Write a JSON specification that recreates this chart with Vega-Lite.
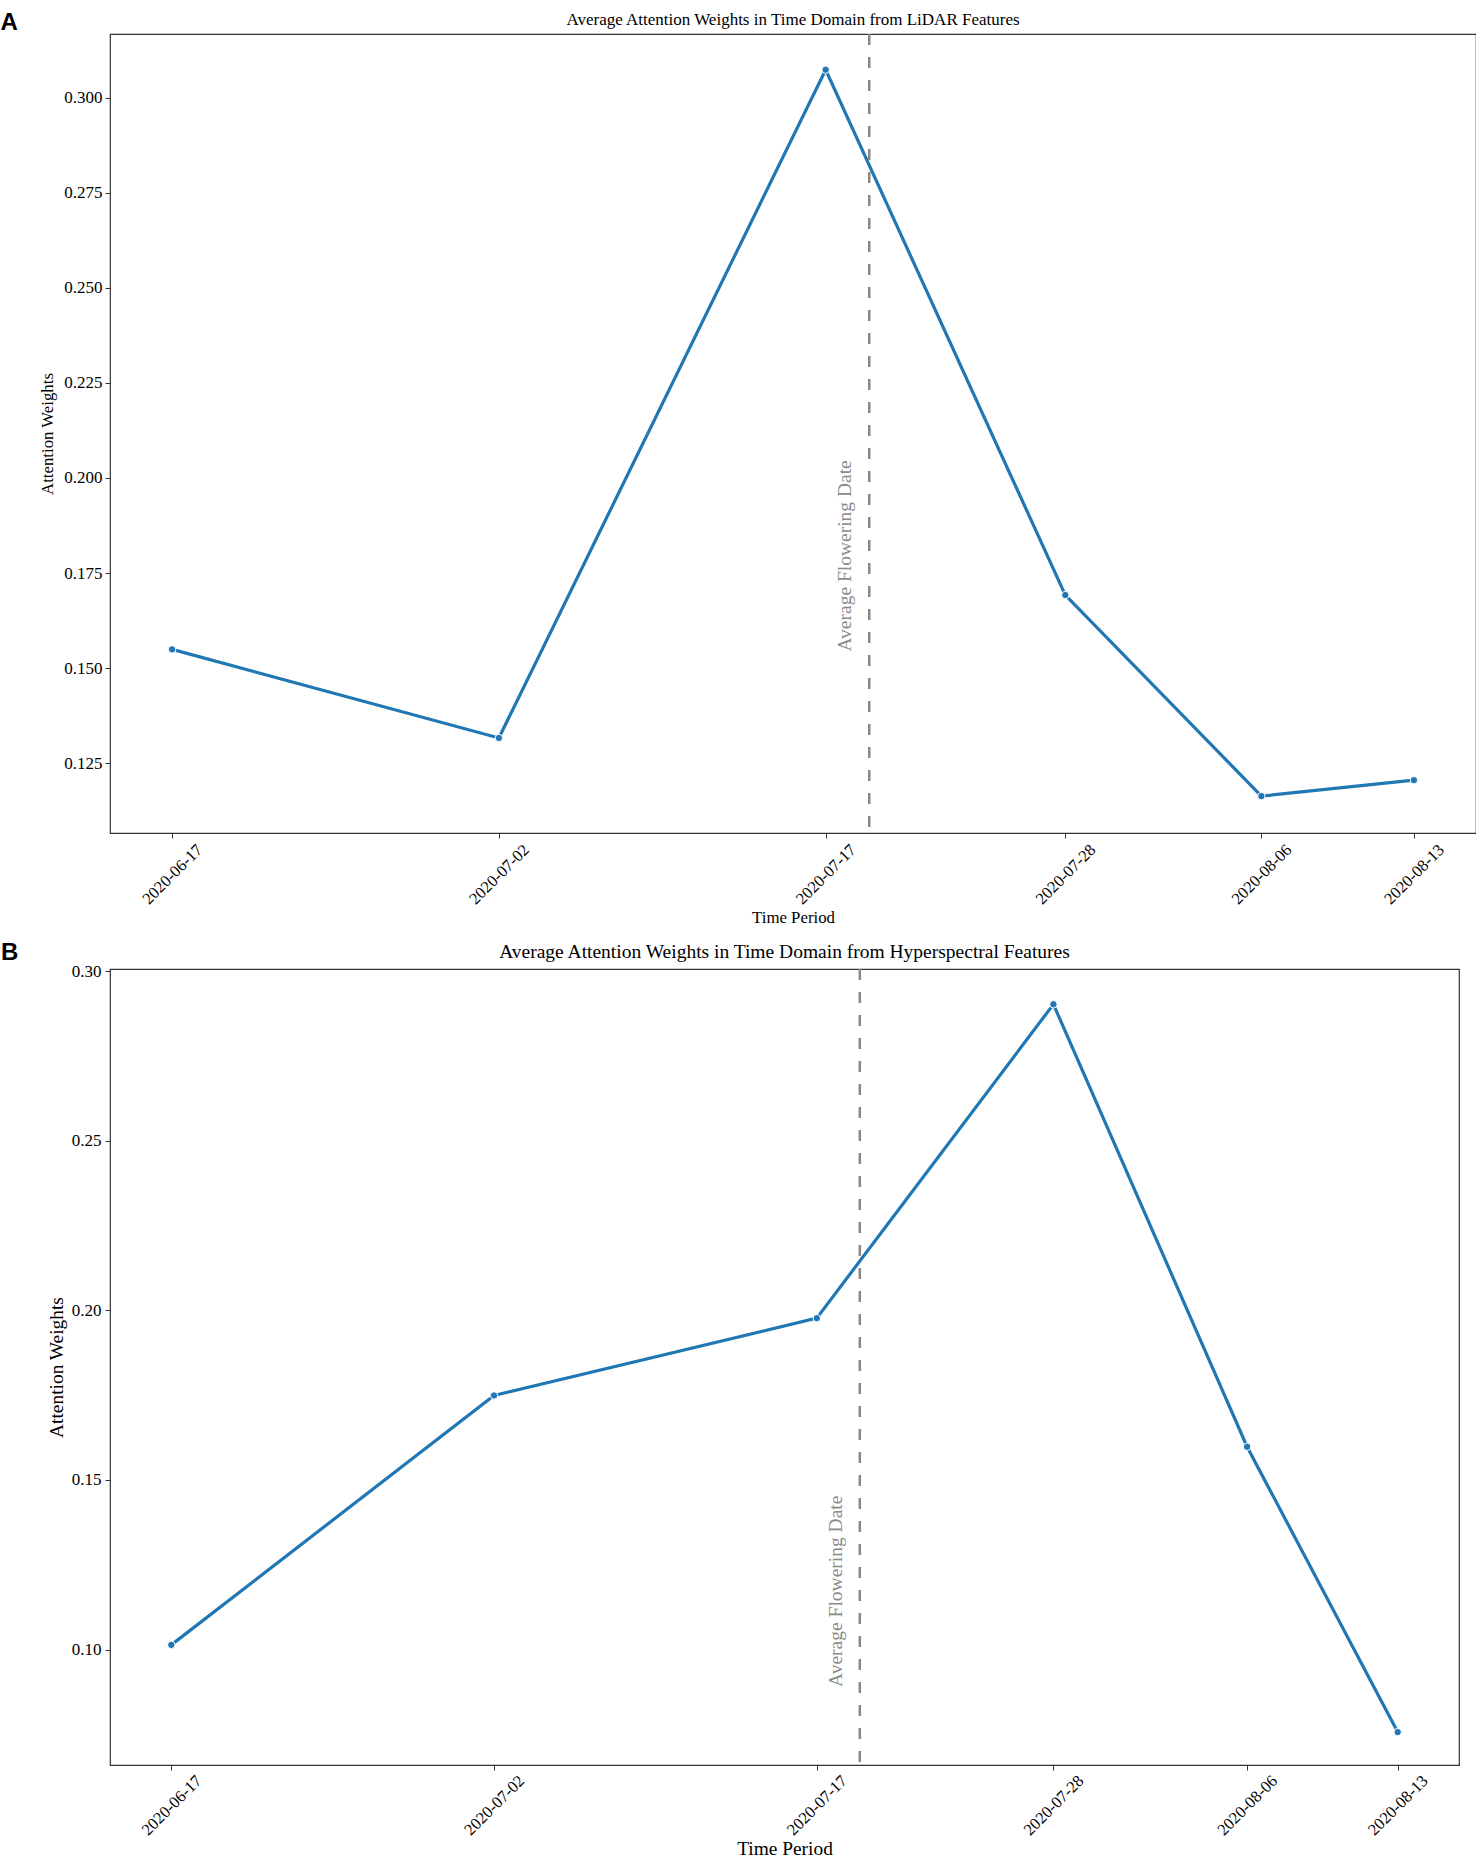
{
  "$schema": "https://vega.github.io/schema/vega-lite/v6.json",
  "background": "white",
  "padding": {"left": 0, "top": 10, "right": 0, "bottom": 0},
  "columns": 1,
  "align": "none",
  "spacing": 13,
  "config": {
    "font": "Liberation Serif",
    "view": {"stroke": "#333333", "strokeWidth": 1.2},
    "title": {"font": "Liberation Serif", "fontWeight": "normal", "color": "black"},
    "axis": {
      "grid": false,
      "domain": false,
      "tickColor": "#333333",
      "tickSize": 5,
      "labelColor": "black",
      "labelFont": "Liberation Serif",
      "titleFont": "Liberation Serif",
      "titleFontWeight": "normal",
      "titleColor": "black"
    }
  },
  "concat": [
    {
      "title": {"text": "A", "orient": "left", "anchor": "end", "angle": 0, "align": "right", "baseline": "top", "offset": 4, "font": "Liberation Sans", "fontWeight": "bold", "fontSize": 24},
      "vconcat": [
        {
          "title": {"text": "Average Attention Weights in Time Domain from LiDAR Features", "fontSize": 17, "offset": 3.5},
          "width": 1366,
          "height": 799,
          "layer": [
            {
              "data": {"values": [
                {"date": "2020-06-17", "weight": 0.1549},
                {"date": "2020-07-02", "weight": 0.1316},
                {"date": "2020-07-17", "weight": 0.3074},
                {"date": "2020-07-28", "weight": 0.1692},
                {"date": "2020-08-06", "weight": 0.1163},
                {"date": "2020-08-13", "weight": 0.1205}
              ]},
              "encoding": {
                "x": {
                  "field": "date", "type": "temporal", "title": "Time Period",
                  "scale": {"type": "utc", "domain": [
                    {"year": 2020, "month": 6, "date": 14, "hours": 3, "minutes": 36, "utc": true},
                    {"year": 2020, "month": 8, "date": 15, "hours": 20, "minutes": 24, "utc": true}
                  ]},
                  "axis": {
                    "values": [
                      {"year": 2020, "month": 6, "date": 17, "utc": true},
                      {"year": 2020, "month": 7, "date": 2, "utc": true},
                      {"year": 2020, "month": 7, "date": 17, "utc": true},
                      {"year": 2020, "month": 7, "date": 28, "utc": true},
                      {"year": 2020, "month": 8, "date": 6, "utc": true},
                      {"year": 2020, "month": 8, "date": 13, "utc": true}
                    ],
                    "labelExpr": "utcFormat(datum.value, '%Y-%m-%d')",
                    "labelAngle": -45,
                    "labelAlign": "center",
                    "labelBaseline": "middle",
                    "labelFontSize": 16.5,
                    "labelPadding": 36,
                    "titleFontSize": 16.8,
                    "titlePadding": 2
                  }
                },
                "y": {
                  "field": "weight", "type": "quantitative", "title": "Attention Weights",
                  "scale": {"domain": [0.1066, 0.3168], "zero": false, "nice": false},
                  "axis": {
                    "values": [0.125, 0.15, 0.175, 0.2, 0.225, 0.25, 0.275, 0.3],
                    "format": ".3f",
                    "labelFontSize": 17,
                    "labelPadding": 3,
                    "titleFontSize": 16.8,
                    "titlePadding": 7
                  }
                }
              },
              "layer": [
                {"mark": {"type": "line", "color": "#1f77b4", "strokeWidth": 3.2}},
                {"mark": {"type": "point", "filled": true, "color": "#1f77b4", "stroke": "white", "strokeWidth": 1, "size": 55, "opacity": 1}}
              ]
            },
            {
              "data": {"values": [{"flowering": "2020-07-19", "label": "Average Flowering Date"}]},
              "mark": {"type": "rule", "color": "#888888", "strokeWidth": 2.5, "strokeDash": [11, 12]},
              "encoding": {"x": {"field": "flowering", "type": "temporal"}}
            },
            {
              "data": {"values": [{"flowering": "2020-07-19", "label": "Average Flowering Date"}]},
              "mark": {"type": "text", "angle": 270, "dy": -14, "baseline": "bottom", "align": "center", "fontSize": 19.5, "color": "#8a8a8a", "font": "Liberation Serif"},
              "encoding": {
                "x": {"field": "flowering", "type": "temporal"},
                "y": {"datum": 0.1795, "type": "quantitative"},
                "text": {"field": "label", "type": "nominal"}
              }
            }
          ]
        }
      ]
    },
    {
      "title": {"text": "B", "orient": "left", "anchor": "end", "angle": 0, "align": "right", "baseline": "top", "offset": 10, "font": "Liberation Sans", "fontWeight": "bold", "fontSize": 24},
      "vconcat": [
        {
          "title": {"text": "Average Attention Weights in Time Domain from Hyperspectral Features", "fontSize": 19.5, "offset": 0},
          "width": 1349,
          "height": 796,
          "layer": [
            {
              "data": {"values": [
                {"date": "2020-06-17", "weight": 0.1014},
                {"date": "2020-07-02", "weight": 0.1749},
                {"date": "2020-07-17", "weight": 0.1977},
                {"date": "2020-07-28", "weight": 0.2902},
                {"date": "2020-08-06", "weight": 0.1598},
                {"date": "2020-08-13", "weight": 0.0757}
              ]},
              "encoding": {
                "x": {
                  "field": "date", "type": "temporal", "title": "Time Period",
                  "scale": {"type": "utc", "domain": [
                    {"year": 2020, "month": 6, "date": 14, "hours": 3, "minutes": 36, "utc": true},
                    {"year": 2020, "month": 8, "date": 15, "hours": 20, "minutes": 24, "utc": true}
                  ]},
                  "axis": {
                    "values": [
                      {"year": 2020, "month": 6, "date": 17, "utc": true},
                      {"year": 2020, "month": 7, "date": 2, "utc": true},
                      {"year": 2020, "month": 7, "date": 17, "utc": true},
                      {"year": 2020, "month": 7, "date": 28, "utc": true},
                      {"year": 2020, "month": 8, "date": 6, "utc": true},
                      {"year": 2020, "month": 8, "date": 13, "utc": true}
                    ],
                    "labelExpr": "utcFormat(datum.value, '%Y-%m-%d')",
                    "labelAngle": -45,
                    "labelAlign": "center",
                    "labelBaseline": "middle",
                    "labelFontSize": 16.5,
                    "labelPadding": 35,
                    "titleFontSize": 19.4,
                    "titlePadding": 1
                  }
                },
                "y": {
                  "field": "weight", "type": "quantitative", "title": "Attention Weights",
                  "scale": {"domain": [0.066, 0.3006], "zero": false, "nice": false},
                  "axis": {
                    "values": [0.1, 0.15, 0.2, 0.25, 0.3],
                    "format": ".2f",
                    "labelFontSize": 17,
                    "labelPadding": 4,
                    "titleFontSize": 19.4,
                    "titlePadding": 5
                  }
                }
              },
              "layer": [
                {"mark": {"type": "line", "color": "#1f77b4", "strokeWidth": 3.2}},
                {"mark": {"type": "point", "filled": true, "color": "#1f77b4", "stroke": "white", "strokeWidth": 1, "size": 55, "opacity": 1}}
              ]
            },
            {
              "data": {"values": [{"flowering": "2020-07-19", "label": "Average Flowering Date"}]},
              "mark": {"type": "rule", "color": "#888888", "strokeWidth": 2.5, "strokeDash": [11, 12]},
              "encoding": {"x": {"field": "flowering", "type": "temporal"}}
            },
            {
              "data": {"values": [{"flowering": "2020-07-19", "label": "Average Flowering Date"}]},
              "mark": {"type": "text", "angle": 270, "dy": -14, "baseline": "bottom", "align": "center", "fontSize": 19.5, "color": "#8a8a8a", "font": "Liberation Serif"},
              "encoding": {
                "x": {"field": "flowering", "type": "temporal"},
                "y": {"datum": 0.1172, "type": "quantitative"},
                "text": {"field": "label", "type": "nominal"}
              }
            }
          ]
        }
      ]
    }
  ]
}
